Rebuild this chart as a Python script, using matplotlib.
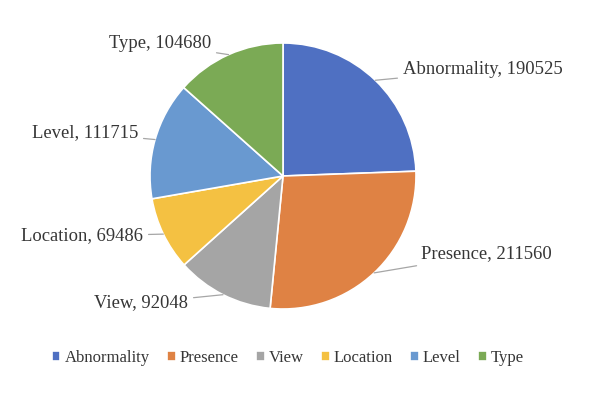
import numpy as np
import matplotlib.pyplot as plt

labels = ['Abnormality', 'Presence', 'View', 'Location', 'Level', 'Type']
values = [190525, 211560, 92048, 69486, 111715, 104680]
colors = ['#4F70C2', '#DF8244', '#A5A5A5', '#F4C142', '#6999D0', '#7BAA55']

# where the data labels sit (pixels from top-left), and alignment
label_pos = [(403, 70), (421, 254), (188, 303), (143, 236), (138, 133), (211, 44)]
label_ha = ['left', 'left', 'right', 'right', 'right', 'right']

plt.rcParams['font.family'] = ['Liberation Serif', 'DejaVu Serif']

W, H = 608, 393
fig = plt.figure(figsize=(W / 100, H / 100), dpi=100)
ax = fig.add_axes([0, 0, 1, 1])

cx, cy, r = 283, H - 176, 133
wedges, _ = ax.pie(values, colors=colors, startangle=90, counterclock=False,
                   center=(cx, cy), radius=r, frame=True,
                   wedgeprops=dict(edgecolor='white', linewidth=1.2))
ax.set_xlim(0, W)
ax.set_ylim(0, H)
ax.set_aspect('equal')
ax.axis('off')

for w, lab, v, pos, ha in zip(wedges, labels, values, label_pos, label_ha):
    ang = np.deg2rad((w.theta1 + w.theta2) / 2)
    px, py = cx + r * np.cos(ang), cy + r * np.sin(ang)
    ax.annotate('%s, %d' % (lab, v), xy=(px, py), xytext=(pos[0], H - pos[1]),
                ha=ha, va='center', fontsize=13.4, color='#363636',
                arrowprops=dict(arrowstyle='-', color='#A6A6A6', lw=0.9,
                                shrinkA=2, shrinkB=0))

ax.legend(wedges, labels, loc='center', bbox_to_anchor=(288 / W, 1 - 358 / H),
          bbox_transform=fig.transFigure, ncol=6, frameon=False,
          fontsize=12, handlelength=0.5, handleheight=0.5,
          handletextpad=0.25, columnspacing=1.05, labelcolor='#363636')

fig.savefig('out.png', dpi=100)
